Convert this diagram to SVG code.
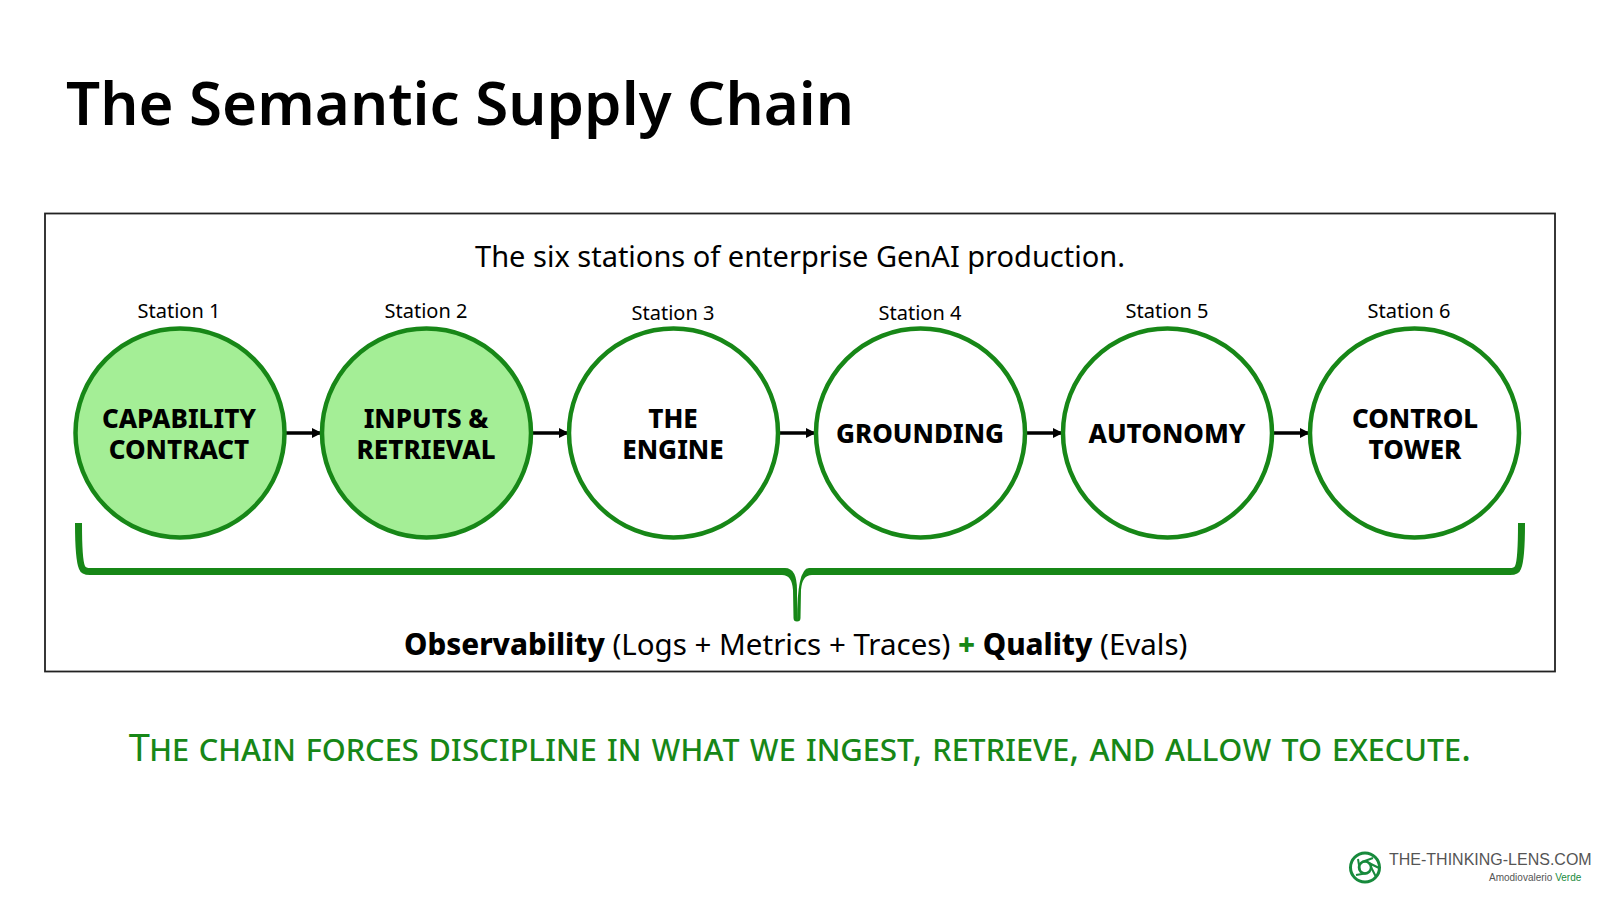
<svg xmlns="http://www.w3.org/2000/svg" width="1600" height="900" viewBox="0 0 1600 900">
<style>
text{font-family:"Noto Sans","Liberation Sans",sans-serif;fill:#000}
.title{font-size:60px;font-weight:600}
.sub{font-size:29px;text-anchor:middle}
.st{font-size:20px;text-anchor:middle}
.lab{font-size:26px;font-weight:800;text-anchor:middle}
.c{stroke:#178717;stroke-width:4.5}
.on{fill:#a4ee96}.off{fill:#fff}
.conn{stroke:#000;stroke-width:3.5;fill:none;marker-end:url(#ah)}
.obs{font-size:29.5px}
.tag{font-size:38px;fill:#178717;font-variant:small-caps;text-anchor:middle}
.logo{font-family:"Liberation Sans",sans-serif}
</style>
<defs><marker id="ah" markerUnits="userSpaceOnUse" markerWidth="12" markerHeight="12" refX="11" refY="6" orient="auto"><path d="M1 1 L11 6 L1 11Z" fill="#000"/></marker></defs>
<rect width="1600" height="900" fill="#fff"/>
<text class="title" x="66" y="125">The Semantic Supply Chain</text>
<rect x="45" y="213.500" width="1510" height="458" fill="none" stroke="#222" stroke-width="1.800"/>
<text class="sub" x="800" y="267">The six stations of enterprise GenAI production.</text>
<g id="connectors">
<path class="conn" d="M285 433H322"/>
<path class="conn" d="M532 433H569"/>
<path class="conn" d="M779 433H816"/>
<path class="conn" d="M1026 433H1063"/>
<path class="conn" d="M1273 433H1310"/>
</g>
<g id="station-1"><text class="st" x="179" y="318">Station 1</text><circle class="c on" cx="180" cy="433" r="104.500"/><text class="lab" x="179" y="428">CAPABILITY</text><text class="lab" x="179" y="459">CONTRACT</text></g>
<g id="station-2"><text class="st" x="426" y="318">Station 2</text><circle class="c on" cx="426.500" cy="433" r="104.500"/><text class="lab" x="426" y="428">INPUTS &amp;</text><text class="lab" x="426" y="459">RETRIEVAL</text></g>
<g id="station-3"><text class="st" x="673" y="320">Station 3</text><circle class="c off" cx="673.500" cy="433" r="104.500"/><text class="lab" x="673" y="428">THE</text><text class="lab" x="673" y="459">ENGINE</text></g>
<g id="station-4"><text class="st" x="920" y="320">Station 4</text><circle class="c off" cx="920.500" cy="433" r="104.500"/><text class="lab" x="920" y="443">GROUNDING</text></g>
<g id="station-5"><text class="st" x="1167" y="318">Station 5</text><circle class="c off" cx="1167.500" cy="433" r="104.500"/><text class="lab" x="1167" y="443">AUTONOMY</text></g>
<g id="station-6"><text class="st" x="1409" y="318">Station 6</text><circle class="c off" cx="1414.500" cy="433" r="104.500"/><text class="lab" x="1415" y="428">CONTROL</text><text class="lab" x="1415" y="459">TOWER</text></g>
<path id="brace" d="M75 523 H82 Q82 560 85 566 Q86 568 90 568 H785 Q797 568 797 590 V622 Q797 568 809 568 H1510 Q1514 568 1515 566 Q1518 560 1518 523 H1525 Q1525 560 1521 569 Q1519 575 1510 575 H812 Q802 575 801 590 L800.500 618 A3.500 3.500 0 0 1 793.500 618 L793 590 Q792 575 782 575 H90 Q81 575 79 569 Q75 560 75 523Z" fill="#178717"/>
<text class="obs" x="404" y="655"><tspan font-weight="800">Observability</tspan> (Logs + Metrics + Traces) <tspan font-weight="800" fill="#178717">+</tspan>  <tspan font-weight="800">Quality</tspan> (Evals)</text>
<text class="tag" x="800" y="761">The chain forces discipline in what we ingest, retrieve, and allow to execute.</text>
<g id="logo">
<circle cx="1365" cy="867.500" r="14.500" fill="none" stroke="#178a3c" stroke-width="3"/>
<circle cx="1365" cy="867.500" r="6" fill="none" stroke="#178a3c" stroke-width="2.500"/>
<path d="M1371 867 L1376 877M1362 862 L1373 858M1360 871 L1358 859M1368 873 L1356 875M1369 863 L1379 868" stroke="#178a3c" stroke-width="2" fill="none"/>
<text class="logo" x="1389" y="865" font-size="16" style="fill:#555">THE-THINKING-LENS.COM</text>
<text class="logo" x="1489" y="881" font-size="10" style="fill:#555">Amodiovalerio <tspan style="fill:#178a3c">Verde</tspan></text>
</g>
</svg>
